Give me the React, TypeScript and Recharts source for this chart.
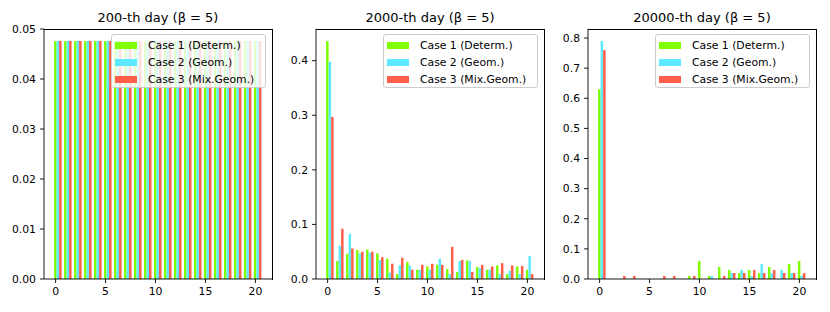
import { Bar, BarChart, XAxis, YAxis } from "recharts";

const CATEGORIES = [0, 1, 2, 3, 4, 5, 6, 7, 8, 9, 10, 11, 12, 13, 14, 15, 16, 17, 18, 19, 20];

// 200-th day: uniform
const DAY200_C1 = [0.0476, 0.0476, 0.0476, 0.0476, 0.0476, 0.0476, 0.0476, 0.0476, 0.0476, 0.0476, 0.0476, 0.0476, 0.0476, 0.0476, 0.0476, 0.0476, 0.0476, 0.0476, 0.0476, 0.0476, 0.0476];
const DAY200_C2 = [0.0476, 0.0476, 0.0476, 0.0476, 0.0476, 0.0476, 0.0476, 0.0476, 0.0476, 0.0476, 0.0476, 0.0476, 0.0476, 0.0476, 0.0476, 0.0476, 0.0476, 0.0476, 0.0476, 0.0476, 0.0476];
const DAY200_C3 = [0.0476, 0.0476, 0.0476, 0.0476, 0.0476, 0.0476, 0.0476, 0.0476, 0.0476, 0.0476, 0.0476, 0.0476, 0.0476, 0.0476, 0.0476, 0.0476, 0.0476, 0.0476, 0.0476, 0.0476, 0.0476];

const DAY2000_C1 = [0.436, 0.033, 0.046, 0.053, 0.054, 0.047, 0.037, 0.009, 0.031, 0.017, 0.023, 0.026, 0.018, 0.013, 0.034, 0.022, 0.017, 0.025, 0.009, 0.023, 0.017];
const DAY2000_C2 = [0.398, 0.061, 0.083, 0.047, 0.048, 0.035, 0.012, 0.025, 0.025, 0.017, 0.017, 0.037, 0.009, 0.033, 0.033, 0.02, 0.017, 0.009, 0.015, 0.009, 0.042];
const DAY2000_C3 = [0.297, 0.092, 0.056, 0.05, 0.05, 0.04, 0.028, 0.039, 0.017, 0.026, 0.028, 0.026, 0.059, 0.035, 0.013, 0.026, 0.023, 0.029, 0.025, 0.024, 0.009];

const DAY20000_C1 = [0.63, 0, 0, 0, 0, 0, 0, 0, 0, 0.01, 0.06, 0.01, 0.04, 0.03, 0.02, 0.03, 0.02, 0.04, 0, 0.05, 0.06];
const DAY20000_C2 = [0.79, 0, 0, 0, 0, 0, 0, 0, 0, 0, 0, 0.01, 0, 0.02, 0.03, 0.01, 0.05, 0.02, 0.03, 0.02, 0.01];
const DAY20000_C3 = [0.76, 0, 0.01, 0.01, 0, 0, 0.01, 0.01, 0, 0.01, 0, 0, 0.01, 0.02, 0.02, 0.03, 0.02, 0.03, 0.02, 0.02, 0.02];

const Y_TICKS_200 = [0, 0.01, 0.02, 0.03, 0.04, 0.05];
const Y_TICKS_2000 = [0, 0.1, 0.2, 0.3, 0.4];
const Y_TICKS_20000 = [0, 0.1, 0.2, 0.3, 0.4, 0.5, 0.6, 0.7, 0.8];

const SERIES = [
  { key: "c1", name: "Case 1 (Determ.)", color: "#7FFF00" },
  { key: "c2", name: "Case 2 (Geom.)", color: "#5DE9FF" },
  { key: "c3", name: "Case 3 (Mix.Geom.)", color: "#FF5F4A" },
];

const PANELS = [
  { title: "200-th day (β = 5)", c1: DAY200_C1, c2: DAY200_C2, c3: DAY200_C3, yTop: 0.05, ticks: Y_TICKS_200, digits: 2, left: 0 },
  { title: "2000-th day (β = 5)", c1: DAY2000_C1, c2: DAY2000_C2, c3: DAY2000_C3, yTop: 0.458, ticks: Y_TICKS_2000, digits: 1, left: 272 },
  { title: "20000-th day (β = 5)", c1: DAY20000_C1, c2: DAY20000_C2, c3: DAY20000_C3, yTop: 0.83, ticks: Y_TICKS_20000, digits: 1, left: 544 },
];

const FONT = "DejaVu Sans";
const FS = 10.8;
const TICK_SHIFT = 2.5; // matplotlib puts tick under the first bar of each group

const XTick = (props: any) => {
  const { x, y, payload } = props;
  const tx = x - TICK_SHIFT;
  return (
    <g>
      <line x1={tx} x2={tx} y1={y - 8} y2={y - 4} stroke="#000" strokeWidth={0.9} />
      <text x={tx} y={y} dy="0.71em" textAnchor="middle" fontSize={FS} fontFamily={FONT} fill="#000">
        {payload.value}
      </text>
    </g>
  );
};

const Panel = ({ p }: { p: (typeof PANELS)[number] }) => {
  const data = CATEGORIES.map((k, i) => ({ k, c1: p.c1[i], c2: p.c2[i], c3: p.c3[i] }));
  return (
    <div style={{ position: "absolute", left: p.left, top: 0, width: 274, height: 312 }}>
      <div
        style={{
          position: "absolute",
          left: 44,
          width: 228,
          top: 10.5,
          textAlign: "center",
          fontFamily: FONT,
          fontSize: 13,
          lineHeight: "13px",
          color: "#000",
        }}
      >
        {p.title}
      </div>
      <BarChart width={274} height={312} data={data} margin={{ top: 29, right: 2, left: 0, bottom: 0 }} barGap={0}>
        <XAxis
          dataKey="k"
          height={33}
          interval={4}
          padding={{ left: 9.1, right: 9.1 }}
          tickLine={false}
          tickSize={4}
          tickMargin={4}
          axisLine={{ stroke: "#000", strokeWidth: 0.9 }}
          tick={<XTick />}
        />
        <YAxis
          width={44}
          type="number"
          domain={[0, p.yTop]}
          ticks={p.ticks}
          tickSize={4}
          tickMargin={4}
          tickLine={{ stroke: "#000", strokeWidth: 0.9 }}
          axisLine={{ stroke: "#000", strokeWidth: 0.9 }}
          tick={{ fontSize: FS, fontFamily: FONT, fill: "#000" }}
          tickFormatter={(v: number) => v.toFixed(p.digits)}
        />
        {SERIES.map((s) => (
          <Bar key={s.key} dataKey={s.key} name={s.name} fill={s.color} barSize={2.5} isAnimationActive={false} />
        ))}
      </BarChart>
      {/* top and right spines */}
      <div
        style={{
          position: "absolute",
          left: 44,
          top: 28.5,
          width: 228.5,
          height: 251,
          boxSizing: "border-box",
          borderTop: "1px solid #000",
          borderRight: "1px solid #000",
          pointerEvents: "none",
        }}
      />
      <div
        style={{
          position: "absolute",
          left: 111,
          top: 34,
          width: 155,
          height: 54,
          boxSizing: "border-box",
          border: "1px solid #cccccc",
          borderRadius: 3,
          background: "rgba(255,255,255,0.8)",
          fontFamily: FONT,
          fontSize: FS,
          color: "#000",
        }}
      >
        {SERIES.map((s, i) => (
          <div key={s.key} style={{ position: "absolute", left: 3, top: 2 + i * 17, height: 17, display: "flex", alignItems: "center", whiteSpace: "nowrap" }}>
            <span style={{ display: "inline-block", width: 22, height: 7.5, background: s.color }} />
            <span style={{ marginLeft: 11 }}>{s.name}</span>
          </div>
        ))}
      </div>
    </div>
  );
}; 

export default function App() {
  return (
    <div style={{ position: "absolute", left: 0, top: 0, width: 830, height: 312, background: "#fff" }}>
      {PANELS.map((p) => (
        <Panel key={p.title} p={p} />
      ))}
    </div>
  );
}
